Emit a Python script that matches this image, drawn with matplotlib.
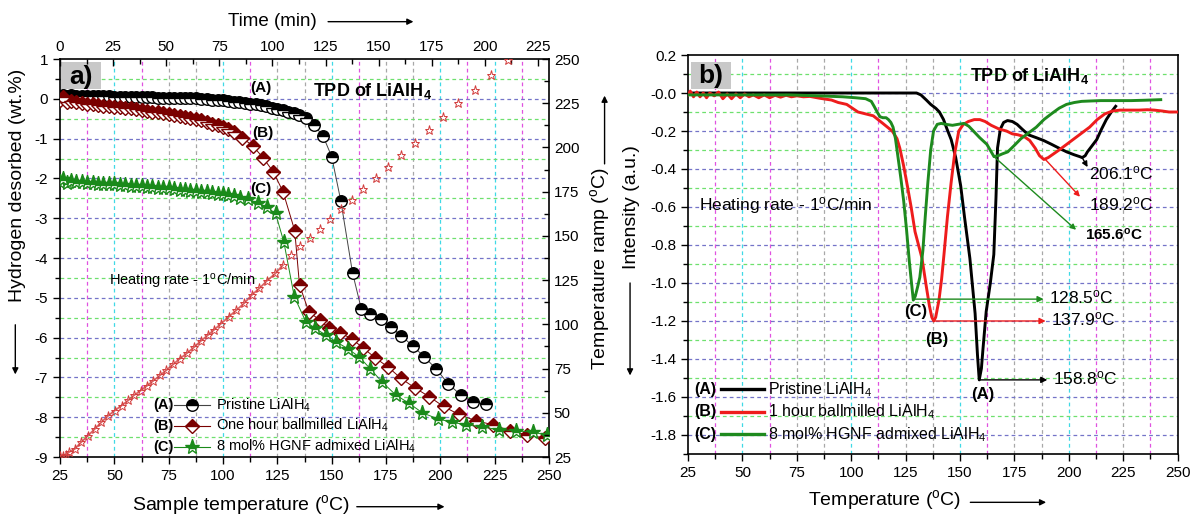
import matplotlib
matplotlib.use('Agg')

import numpy as np
import matplotlib.pyplot as plt
from matplotlib.lines import Line2D
from matplotlib.patches import Rectangle

plt.rcParams['font.family'] = ['Liberation Sans', 'DejaVu Sans']
plt.rcParams['axes.unicode_minus'] = False
plt.rcParams['mathtext.default'] = 'regular'

DEG = r'$^\mathregular{o}$'
SUB4 = r'$_\mathregular{4}$'

# ---- panel a) : hydrogen desorbed vs sample temperature ----
a_temp = [25.0, 26.5, 28.0, 30.0, 32.5, 35.0, 37.5, 40.0, 42.5, 45.0, 47.5, 50.0,
          52.5, 55.0, 57.5, 60.0, 62.5, 65.0, 67.5, 70.0, 72.5, 75.0, 77.5, 80.0,
          82.5, 85.0, 87.5, 90.0, 92.5, 95.0, 97.5, 100.0, 102.5, 105.0, 107.5,
          110.0, 112.5, 115.0, 117.5, 120.0, 122.5, 125.0, 127.5, 130.0, 132.5,
          135.0, 138.1, 142.0, 146.0, 150.0, 154.2, 159.6, 163.6, 167.7, 172.8,
          177.2, 182.1, 187.4, 192.7, 198.0, 203.6, 209.4, 215.2, 221.2]
a_wt = [0.08, 0.10, 0.06, 0.09, 0.07, 0.07, 0.07, 0.06, 0.06, 0.06, 0.06, 0.05,
        0.05, 0.05, 0.05, 0.04, 0.04, 0.04, 0.04, 0.03, 0.03, 0.03, 0.02, 0.02,
        0.02, 0.01, 0.01, 0.00, -0.01, -0.02, -0.03, -0.04, -0.05, -0.07, -0.08,
        -0.10, -0.12, -0.14, -0.16, -0.19, -0.22, -0.25, -0.28, -0.32, -0.36,
        -0.40, -0.48, -0.67, -0.93, -1.45, -2.56, -4.37, -5.27, -5.41, -5.54,
        -5.73, -5.96, -6.21, -6.49, -6.78, -7.16, -7.44, -7.62, -7.68]

b_temp = [25.0, 26.5, 28.0, 30.0, 32.5, 35.0, 37.5, 40.0, 42.5, 45.0, 47.5, 50.0,
          52.5, 55.0, 57.5, 60.0, 62.5, 65.0, 67.5, 70.0, 72.5, 75.0, 77.5, 80.0,
          82.5, 85.0, 87.5, 90.0, 92.5, 95.0, 97.5, 100.0, 102.5, 105.0, 108.8,
          113.7, 118.4, 123.1, 127.6, 133.0, 135.2, 139.5, 144.5, 149.0, 154.0,
          159.2, 164.5, 170.1, 176.0, 181.8, 188.2, 194.8, 201.5, 208.5, 216.4,
          224.3, 232.2, 240.1, 248.1]
b_wt = [-0.02, 0.05, -0.08, -0.05, -0.08, -0.10, -0.12, -0.14, -0.15, -0.17, -0.18,
        -0.20, -0.21, -0.23, -0.24, -0.26, -0.28, -0.30, -0.32, -0.34, -0.36, -0.38,
        -0.40, -0.42, -0.45, -0.48, -0.51, -0.54, -0.58, -0.62, -0.66, -0.71, -0.77,
        -0.84, -0.98, -1.18, -1.48, -1.83, -2.33, -3.31, -4.68, -5.35, -5.56, -5.77,
        -5.88, -6.03, -6.26, -6.51, -6.74, -7.02, -7.26, -7.48, -7.73, -7.93, -8.09,
        -8.19, -8.34, -8.45, -8.52]

c_temp = [25.0, 26.5, 28.0, 30.0, 32.5, 35.0, 37.5, 40.0, 42.5, 45.0, 47.5, 50.0,
          52.5, 55.0, 57.5, 60.0, 62.5, 65.0, 67.5, 70.0, 72.5, 75.0, 77.5, 80.0,
          82.5, 85.0, 87.5, 90.0, 92.5, 95.0, 97.5, 100.0, 102.5, 105.0, 108.0,
          111.5, 116.0, 120.1, 124.2, 128.0, 132.8, 138.1, 142.5, 147.4, 152.2,
          157.5, 162.8, 167.7, 173.3, 179.5, 185.6, 191.8, 198.8, 205.5, 212.0,
          219.4, 227.0, 234.9, 242.8, 249.3]
c_wt = [-2.08, -2.02, -2.12, -2.07, -2.10, -2.10, -2.11, -2.12, -2.13, -2.13, -2.14,
        -2.15, -2.16, -2.17, -2.18, -2.19, -2.20, -2.21, -2.22, -2.23, -2.24, -2.25,
        -2.27, -2.28, -2.29, -2.31, -2.32, -2.34, -2.35, -2.37, -2.39, -2.40, -2.42,
        -2.45, -2.48, -2.52, -2.62, -2.73, -2.88, -3.60, -4.97, -5.60, -5.77, -5.94,
        -6.11, -6.28, -6.49, -6.78, -7.12, -7.44, -7.65, -7.89, -8.04, -8.13, -8.19,
        -8.25, -8.31, -8.34, -8.38, -8.45]

# temperature ramp vs time (top / right axes)
ramp_time = [0, 1.5, 3.0, 4.1, 6.9, 9.9, 13.2, 16.4, 19.5, 22.7, 25.8, 29.0, 32.1,
             34.7, 38.0, 41.1, 43.7, 47.0, 50.0, 53.3, 56.4, 59.9, 63.2, 66.3, 69.5,
             72.6, 75.8, 79.4, 83.0, 86.6, 90.2, 93.8, 97.4, 101.4, 104.9, 108.9,
             113.2, 117.7, 122.5, 127.1, 132.3, 137.3, 142.7, 148.6, 154.3, 160.6,
             166.9, 173.7, 180.3, 187.5, 195.2, 202.7, 210.7]
ramp_temp = [25.8, 25.8, 26.3, 27.7, 29.5, 33.3, 37.1, 40.9, 44.7, 48.4, 51.3, 54.1,
             57.0, 59.8, 62.6, 65.4, 67.9, 71.1, 74.0, 77.4, 80.6, 83.8, 87.2, 90.6,
             93.8, 97.0, 100.4, 104.2, 108.0, 111.8, 116.5, 120.3, 124.6, 128.8,
             133.5, 139.0, 144.4, 148.9, 154.1, 159.4, 165.0, 170.4, 176.6, 182.6,
             188.8, 195.7, 202.8, 209.9, 217.4, 224.9, 232.7, 241.2, 249.6]
n_dense = 35   # the ramp points below ~105 min sit so close they form a band

labels_a = ['Pristine LiAlH' + SUB4, 'One hour ballmilled LiAlH' + SUB4,
            '8 mol% HGNF admixed LiAlH' + SUB4]

# ---- panel b) : TPD intensity ----
pa_temp = [25, 60, 100, 130, 132, 134.5, 136.5, 138.9, 140.5, 142.4, 144, 145.9, 148,
           150.3, 152, 154.5, 156.9, 158.0, 158.8, 159.8, 160.5, 162, 163.9, 165.5,
           166.5, 167.2, 168.5, 170, 171.8, 174, 176.2, 178.5, 181.4, 185, 188.4, 192,
           195.4, 199, 202.4, 205, 206.1, 207.5, 208.5, 210.5, 212.8, 215, 217.2,
           219.5, 221.5]
pa_int = [0.0, 0.0, 0.0, 0.0, -0.01, -0.037, -0.06, -0.081, -0.10, -0.14, -0.19,
          -0.245, -0.34, -0.49, -0.65, -0.87, -1.16, -1.38, -1.51, -1.45, -1.35, -1.15,
          -1.0, -0.85, -0.55, -0.29, -0.19, -0.155, -0.145, -0.15, -0.165, -0.19,
          -0.22, -0.235, -0.25, -0.27, -0.29, -0.31, -0.325, -0.335, -0.34, -0.33,
          -0.31, -0.28, -0.245, -0.19, -0.14, -0.10, -0.07]

pb_temp = [25, 26, 27.5, 29, 30.5, 32, 33.5, 35, 37, 39, 41, 43, 45, 47, 49, 51, 53,
           55, 57.5, 60, 62.5, 65, 67.5, 70, 72.5, 75, 78, 81, 85.7, 90.9, 94, 97.9,
           100.5, 103.1, 106.6, 110.1, 114.5, 118.8, 121, 122.3, 124, 125.8, 127.5,
           129.3, 132.5, 134.5, 135.9, 137.0, 137.9, 138.8, 140.3, 141.5, 142.6,
           144.2, 145.9, 147.5, 149.4, 151.5, 153.8, 156.5, 159.1, 161.5, 164.3, 168,
           171.3, 174, 176.6, 179.5, 182, 184.5, 186.5, 188.5, 190.5, 193, 195.5, 199,
           202.5, 206, 209.5, 213, 216.5, 220, 223.5, 228, 232.2, 236, 239.2, 243,
           246, 250]
pb_int = [-0.01, 0.01, -0.02, 0.005, -0.02, 0.0, -0.025, 0.0, -0.015, 0.005, -0.03,
          -0.005, -0.03, -0.005, -0.025, -0.005, -0.02, -0.01, -0.025, -0.01, -0.025,
          -0.012, -0.022, -0.012, -0.02, -0.015, -0.02, -0.018, -0.028, -0.037, -0.05,
          -0.06, -0.08, -0.10, -0.11, -0.12, -0.16, -0.20, -0.24, -0.29, -0.38, -0.49,
          -0.60, -0.73, -0.87, -1.02, -1.12, -1.18, -1.20, -1.18, -1.09, -0.98, -0.85,
          -0.65, -0.47, -0.32, -0.20, -0.165, -0.15, -0.14, -0.14, -0.15, -0.17,
          -0.19, -0.20, -0.215, -0.22, -0.23, -0.25, -0.29, -0.33, -0.35, -0.34,
          -0.32, -0.30, -0.27, -0.24, -0.21, -0.18, -0.14, -0.11, -0.095, -0.09,
          -0.09, -0.09, -0.088, -0.09, -0.095, -0.10, -0.10]

pc_temp = [25, 50, 71.7, 85, 96.1, 102, 106.6, 109.2, 110.5, 111.9, 113.2, 114.5, 116,
           117.1, 118.2, 119.2, 120.3, 121.5, 122.8, 124.1, 125.4, 126.7, 127.5, 128.5,
           129.4, 130.5, 131.5, 132.9, 134, 135.2, 136.5, 137.8, 139.5, 141.3, 143.5,
           146.5, 149, 151.8, 154, 156.1, 159, 162.3, 165.6, 167.5, 169.5, 171.9, 175,
           178, 181.5, 185, 188.5, 191.9, 195.5, 198.9, 202.5, 205.9, 210, 214.7, 222,
           228.6, 235, 242.2]
pc_int = [-0.01, -0.01, -0.01, -0.015, -0.02, -0.025, -0.03, -0.044, -0.07, -0.10,
          -0.125, -0.13, -0.13, -0.14, -0.155, -0.18, -0.24, -0.34, -0.45, -0.57,
          -0.72, -0.89, -0.98, -1.09, -1.07, -1.02, -0.97, -0.83, -0.65, -0.47, -0.30,
          -0.20, -0.165, -0.16, -0.165, -0.17, -0.165, -0.16, -0.175, -0.20, -0.235,
          -0.27, -0.335, -0.33, -0.32, -0.31, -0.275, -0.24, -0.21, -0.18, -0.14,
          -0.11, -0.08, -0.06, -0.05, -0.044, -0.042, -0.04, -0.04, -0.04, -0.038,
          -0.035]

labels_b = ['Pristine LiAlH' + SUB4, '1 hour ballmilled LiAlH' + SUB4,
            '8 mol% HGNF admixed LiAlH' + SUB4]

# peak temperatures (label, T, intensity)
main_peaks = [('128.5', 128.5, -1.085), ('137.9', 137.9, -1.20), ('158.8', 158.8, -1.51)]
second_peaks = [('206.1', 206.1, -0.34), ('189.2', 189.2, -0.35), ('165.6', 165.6, -0.335)]

# ---- colours ----
C_A = 'black'
C_B = '#7a0000'
C_C = '#1a8a1a'
L_B = '#ee1c1c'
L_C = '#1e8a1e'

GRID = dict(cyan='#3fd9e6', mag='#e052e0', grey='#a8a8a8', green='#6ee06e', blue='#7474c8')


def draw_grid(ax, vcols, hmajor, hminor):
    for col, xs in vcols.items():
        for x in xs:
            ax.axvline(x, color=GRID[col], lw=0.9, ls=(0, (3, 2.5)), zorder=0)
    for y in hmajor:
        ax.axhline(y, color=GRID['blue'], lw=0.9, ls=(0, (3, 2.5)), zorder=0)
    for y in hminor:
        ax.axhline(y, color=GRID['green'], lw=0.9, ls=(0, (3, 2.5)), zorder=0)


def tag_box(ax, text, x0, y0):
    ax.add_patch(Rectangle((x0, y0), 0.082, 0.068, transform=ax.transAxes,
                           facecolor='#c8c8c8', edgecolor='none', zorder=5))
    ax.text(x0 + 0.041, y0 + 0.032, text, transform=ax.transAxes, ha='center',
            va='center', fontsize=19, fontweight='bold', zorder=6)


def farrow(x0, y0, x1, y1):
    fig.add_artist(matplotlib.patches.FancyArrowPatch(
        (x0, y0), (x1, y1), transform=fig.transFigure, arrowstyle='-|>',
        mutation_scale=9, lw=1.0, color='black'))


fig = plt.figure(figsize=(11.96, 5.16), dpi=100)

# ================= panel a =================
ax = fig.add_axes([0.0502, 0.1143, 0.4088, 0.7713])
ax.set_xlim(25, 250)
ax.set_ylim(-9, 1)
draw_grid(ax,
          {'cyan': [50, 100, 150, 200, 225],
           'mag': [37.5, 62.5, 112.5, 162.5, 212.5, 237.5],
           'grey': [75, 87.5, 125, 137.5, 175, 187.5]},
          np.arange(-8, 1, 1), np.arange(-8.5, 1, 1))

ax.plot(a_temp, a_wt, color='#444444', lw=0.7, marker='o', ms=8.3,
        fillstyle='top', mfc=C_A, mfcalt='white', mec=C_A, mew=1.0, zorder=3)
ax.plot(b_temp, b_wt, color=C_B, lw=0.7, marker='D', ms=7.0,
        fillstyle='top', mfc=C_B, mfcalt='white', mec=C_B, mew=1.0, zorder=3)
ax.plot(c_temp, c_wt, color=C_C, lw=0.7, marker='*', ms=11,
        fillstyle='top', mfc=C_C, mfcalt='white', mec=C_C, mew=1.0, zorder=4)

ax.set_xticks(np.arange(25, 251, 25))
ax.set_xticks(np.arange(37.5, 250, 25), minor=True)
ax.set_yticks(np.arange(-9, 1.5, 1))
ax.set_yticks(np.arange(-8.5, 1, 1), minor=True)
ax.tick_params(which='both', direction='out', labelsize=11, width=1.0, top=False, right=False)
ax.tick_params(which='major', length=5)
ax.tick_params(which='minor', length=3.5)
for sp in ax.spines.values():
    sp.set_linewidth(1.2)

ax.text(117.5, 0.27, '(A)', ha='center', va='center', fontsize=11, fontweight='bold')
ax.text(118.4, -0.85, '(B)', ha='center', va='center', fontsize=11, fontweight='bold')
ax.text(117.5, -2.27, '(C)', ha='center', va='center', fontsize=11, fontweight='bold')
ax.text(141.5, 0.2, 'TPD of LiAlH' + SUB4, ha='left', va='center', fontsize=13,
        fontweight='bold')
ax.text(47.5, -4.6, 'Heating rate - 1' + DEG + 'C/min', ha='left', va='center', fontsize=10.5)
tag_box(ax, 'a)', 0.002, 0.924)

# manual legend
rows_a = [0.131, 0.079, 0.026]
styles_a = [dict(marker='o', ms=8.3, mfc=C_A, mec=C_A, color='#444444'),
            dict(marker='D', ms=7.0, mfc=C_B, mec=C_B, color=C_B),
            dict(marker='*', ms=11, mfc=C_C, mec=C_C, color=C_C)]
for tag, y, st, lab in zip(['(A)', '(B)', '(C)'], rows_a, styles_a, labels_a):
    ax.text(0.19, y, tag, transform=ax.transAxes, ha='left', va='center',
            fontsize=10.5, fontweight='bold')
    ax.add_line(Line2D([0.233, 0.27, 0.307], [y, y, y], transform=ax.transAxes,
                       lw=0.8, markevery=[1], fillstyle='top', mfcalt='white',
                       mew=1.0, **st))
    ax.text(0.319, y, lab, transform=ax.transAxes, ha='left', va='center', fontsize=10.5)

# ramp axes: top (time) / right (ramp temperature)
axr = fig.add_axes(ax.get_position(), frameon=False)
axr.set_xlim(0, 230.2)
axr.set_ylim(25, 250)
axr.plot(ramp_time[:n_dense], ramp_temp[:n_dense], color='#d23c3c', lw=1.3, alpha=0.8)
axr.plot(ramp_time, ramp_temp, ls='none', marker='*', ms=6.5, mfc='none',
         mec='#d23c3c', mew=0.7)
axr.xaxis.tick_top()
axr.yaxis.tick_right()
axr.set_xticks(np.arange(0, 226, 25))
axr.set_xticks(np.arange(12.5, 230, 25), minor=True)
axr.set_yticks(np.arange(25, 251, 25))
axr.set_yticks(np.arange(37.5, 250, 25), minor=True)
axr.tick_params(which='both', direction='in', labelsize=11, width=1.0)
axr.tick_params(which='major', length=5)
axr.tick_params(which='minor', length=3.5)

# ================= panel b =================
bx = fig.add_axes([0.5753, 0.1202, 0.4094, 0.7732])
bx.set_xlim(25, 250)
bx.set_ylim(-1.9, 0.2)
draw_grid(bx,
          {'cyan': [50, 100, 150, 200],
           'mag': [37.5, 62.5, 112.5, 162.5, 212.5, 237.5],
           'grey': [75, 87.5, 125, 137.5, 175, 187.5, 225]},
          np.arange(-1.8, 0.05, 0.2), np.arange(-1.7, 0.15, 0.2))

bx.plot(pa_temp, pa_int, color=C_A, lw=2.1, zorder=3)
bx.plot(pb_temp, pb_int, color=L_B, lw=2.1, zorder=3)
bx.plot(pc_temp, pc_int, color=L_C, lw=2.1, zorder=3)

bx.set_xticks(np.arange(25, 251, 25))
bx.set_xticks(np.arange(37.5, 250, 25), minor=True)
bx.set_yticks(np.arange(-1.8, 0.25, 0.2))
bx.set_yticks(np.arange(-1.9, 0.2, 0.2), minor=True)
bx.yaxis.set_major_formatter(matplotlib.ticker.FormatStrFormatter('%.1f'))
bx.tick_params(which='both', direction='out', labelsize=11, width=1.0)
bx.tick_params(which='major', length=5)
bx.tick_params(which='minor', length=3.5)
for sp in bx.spines.values():
    sp.set_linewidth(1.2)

# main peak arrows
for (lab, t, v), col, xend in zip(main_peaks, [L_C, L_B, C_A], [188.4, 189.3, 190.1]):
    bx.annotate('', xy=(xend, v), xytext=(t, v),
                arrowprops=dict(arrowstyle='-|>', color=col, lw=1.0, mutation_scale=9,
                                shrinkA=0, shrinkB=0))
    bx.text(xend + 2.5, v + 0.008, lab + DEG + 'C', ha='left', va='center', fontsize=12.5)

# second peak arrows
ends = [(208.6, -0.39), (205.1, -0.546), (203.3, -0.72)]
txt_pos = [(209.4, -0.425), (209.4, -0.585), (207.5, -0.745)]
for (lab, t, v), col, (xe, ye), (xt, yt), fw, fs in zip(
        second_peaks, [C_A, L_B, L_C], ends, txt_pos,
        ['normal', 'normal', 'bold'], [12.5, 12.5, 11]):
    bx.annotate('', xy=(xe, ye), xytext=(t, v),
                arrowprops=dict(arrowstyle='-|>', color=col, lw=1.0, mutation_scale=8,
                                shrinkA=0, shrinkB=0))
    bx.text(xt, yt, lab + DEG + 'C', ha='left', va='center', fontsize=fs, fontweight=fw)

bx.text(129.8, -1.15, '(C)', ha='center', va='center', fontsize=12, fontweight='bold')
bx.text(139.5, -1.30, '(B)', ha='center', va='center', fontsize=12, fontweight='bold')
bx.text(160.5, -1.585, '(A)', ha='center', va='center', fontsize=12, fontweight='bold')
bx.text(154.5, 0.09, 'TPD of LiAlH' + SUB4, ha='left', va='center', fontsize=13,
        fontweight='bold')
bx.text(30.2, -0.59, 'Heating rate - 1' + DEG + 'C/min', ha='left', va='center', fontsize=12.5)
tag_box(bx, 'b)', 0.006, 0.915)

rows_b = [0.162, 0.106, 0.049]
for tag, y, col, lab in zip(['(A)', '(B)', '(C)'], rows_b, [C_A, L_B, L_C], labels_b):
    bx.text(0.012, y, tag, transform=bx.transAxes, ha='left', va='center',
            fontsize=11.5, fontweight='bold')
    bx.add_line(Line2D([0.067, 0.155], [y, y], transform=bx.transAxes, color=col, lw=2.4))
    bx.text(0.163, y, lab, transform=bx.transAxes, ha='left', va='center', fontsize=11.5)

# ================= axis labels with arrows =================
fig.text(0.228, 0.958, 'Time (min)', ha='center', va='center', fontsize=13.5)
farrow(0.272, 0.958, 0.348, 0.958)
fig.text(0.202, 0.021, 'Sample temperature (' + DEG + 'C)', ha='center', va='center',
         fontsize=14)
farrow(0.296, 0.018, 0.374, 0.018)
fig.text(0.7395, 0.031, 'Temperature (' + DEG + 'C)', ha='center', va='center', fontsize=14)
farrow(0.809, 0.0265, 0.877, 0.0265)

fig.text(0.0144, 0.641, 'Hydrogen desorbed (wt.%)', rotation=90, ha='center',
         va='center', fontsize=14)
farrow(0.0128, 0.376, 0.0128, 0.269)
fig.text(0.5015, 0.48, 'Temperature ramp (' + DEG + 'C)', rotation=90, ha='center',
         va='center', fontsize=14)
farrow(0.5055, 0.677, 0.5055, 0.82)
fig.text(0.528, 0.599, 'Intensity (a.u.)', rotation=90, ha='center', va='center',
         fontsize=14)
farrow(0.5268, 0.457, 0.5268, 0.267)

fig.savefig('out.png', dpi=100)
